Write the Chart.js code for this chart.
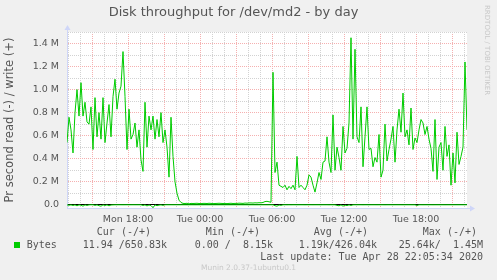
<!DOCTYPE html>
<html>
<head>
<meta charset="utf-8">
<script src="https://cdn.jsdelivr.net/npm/chart.js@4"></script>
<style>
  body { margin: 0; background: #f0f0f0; }
  #wrap { position: relative; width: 497px; height: 280px; overflow: hidden; background: #f0f0f0; }
  #diskChart { position: absolute; left: 0; top: 0; }
  .mono { position: absolute; font: 10px 'DejaVu Sans Mono', monospace; line-height: 12px; color: #555; white-space: pre; }
  .swatch { position: absolute; left: 14px; top: 242px; width: 6px; height: 6px; background: #00cc00; }
  .brand { position: absolute; left: 483px; top: 5px; font: 7px 'DejaVu Sans', sans-serif; color: #c8c8c8; writing-mode: vertical-rl; white-space: nowrap; }
  .version { position: absolute; left: 0; width: 497px; top: 263px; text-align: center; font: 7.5px 'DejaVu Sans', sans-serif; line-height: 10px; color: #c8c8c8; }
</style>
</head>
<body>
<div id="wrap">
  <canvas id="diskChart" width="497" height="280"></canvas>
  <div class="swatch"></div>
  <div class="mono" style="left:26.7px; top:238.5px">Bytes</div>
  <div class="mono" style="right:346px; top:226px">Cur (-/+)</div>
  <div class="mono" style="right:237px; top:226px">Min (-/+)</div>
  <div class="mono" style="right:129px; top:226px">Avg (-/+)</div>
  <div class="mono" style="right:20px; top:226px">Max (-/+)</div>
  <div class="mono" style="right:330px; top:238.5px">11.94 /650.83k</div>
  <div class="mono" style="right:224px; top:238.5px">0.00 /  8.15k</div>
  <div class="mono" style="right:120px; top:238.5px">1.19k/426.04k</div>
  <div class="mono" style="right:14px; top:238.5px">25.64k/  1.45M</div>
  <div class="mono" style="right:14px; top:251px">Last update: Tue Apr 28 22:05:34 2020</div>
  <div class="brand">RRDTOOL / TOBI OETIKER</div>
  <div class="version">Munin 2.0.37-1ubuntu0.1</div>
</div>
<script>
// one sample every 10 minutes, starting Mon 12:55
const startHour = 12 + 55 / 60;
const stepHours = 10 / 60;
const endHour = 46.25;

// write (+), MB per second
const writeMB = [
  0.54, 0.76, 0.65, 0.45, 0.80, 1.00, 0.77, 1.06, 0.77, 0.89, 0.72, 0.70, 0.85, 0.48, 0.93, 0.59, 0.80,
  0.57, 0.93, 0.54, 0.71, 0.87, 0.59, 0.94, 1.09, 0.83, 0.97, 1.03, 1.33, 0.94, 0.48, 0.83, 0.57,
  0.61, 0.71, 0.50, 0.65, 0.39, 0.29, 0.89, 0.50, 0.77, 0.65, 0.77, 0.57, 0.74, 0.59, 0.80, 0.54,
  0.65, 0.50, 0.24, 0.76, 0.42, 0.20, 0.10, 0.04, 0.02,
  0.012, 0.011, 0.013, 0.008, 0.012, 0.011, 0.012, 0.013, 0.011, 0.010, 0.012, 0.012, 0.011, 0.013,
  0.012, 0.010, 0.011, 0.012, 0.013, 0.012, 0.011, 0.012, 0.010, 0.012, 0.013, 0.011, 0.012, 0.012,
  0.014, 0.013, 0.012, 0.015, 0.014, 0.016,
  0.016, 0.015, 0.017, 0.016, 0.018, 0.017, 0.020, 0.028, 0.030, 0.026, 0.022,
  1.15,
  0.28, 0.37, 0.17, 0.16, 0.15, 0.17, 0.13, 0.16, 0.14, 0.17, 0.13, 0.42, 0.15, 0.17, 0.15, 0.13,
  0.17, 0.26, 0.24, 0.17, 0.11, 0.19, 0.28, 0.22, 0.37, 0.38, 0.59, 0.37, 0.28, 0.78,
  0.30, 0.50, 0.41, 0.30, 0.68,
  0.45, 0.49, 0.71, 1.45, 0.57, 1.35, 0.59, 0.54, 0.85, 0.33, 0.59, 0.85, 0.48, 0.49, 0.33, 0.41,
  0.37, 0.61, 0.24, 0.30, 0.70, 0.38, 0.48, 0.57, 0.68, 0.37, 0.65, 0.83, 0.63, 0.97, 0.59, 0.65,
  0.52, 0.84, 0.48, 0.58, 0.54, 0.65, 0.74, 0.71, 0.61, 0.68, 0.57, 0.49, 0.29, 0.74, 0.22, 0.50,
  0.54, 0.30, 0.68, 0.42, 0.52, 0.17, 0.45, 0.19, 0.63, 0.35, 0.42, 0.50, 1.24, 0.65
];

// read (-), kB per second
const readKB = [
  1, 4, 1,
  6, 1, 9, 1, 4, 12, 1, 6, 1,
  0.3, 0.2,
  5, 1, 8, 12, 1, 6, 1, 9, 2, 1,
  0.2, 0.3, 0.1, 0.2, 0.4, 0.2, 0.1, 0.3, 0.2, 0.1, 0.2, 0.3, 0.2, 0.1,
  6, 1, 10, 2, 7, 25.6, 1, 8, 3, 1, 5,
  0.2, 0.1, 0.3, 0.1, 0.2, 0.1, 0.1, 0.2, 0.1, 0.1, 0.1, 0.2, 0.1, 0.1, 0.1, 0.2, 0.1, 0.1,
  0.1, 0.2, 0.1, 0.1, 0.1, 0.1, 0.2, 0.1, 0.1, 0.1, 0.1, 0.2, 0.1, 0.1, 0.1, 0.2, 0.1, 0.1,
  0.1, 0.1, 0.1, 0.2, 0.1, 0.1, 0.2, 0.1, 0.1, 0.3, 0.2, 0.1, 0.2, 0.3, 0.2, 0.4, 0.3, 0.2,
  0.2,
  8, 12, 2, 5,
  0.4, 0.3, 0.6, 0.2, 0.5, 0.3, 0.2, 0.4, 0.3, 0.2, 0.3, 0.5, 0.2, 0.3, 0.2, 0.4, 0.3, 0.2,
  0.3, 0.5, 0.3, 0.4, 0.2, 0.6, 0.3, 0.4, 0.5,
  5, 9, 1, 12, 3, 7, 1, 6,
  0.5, 0.3, 0.4, 0.2, 0.3, 0.5, 0.2, 0.3, 0.4, 0.2, 0.3, 0.2, 0.4, 0.3, 0.2, 0.3, 0.5, 0.2,
  0.3, 0.2, 0.4, 0.3, 0.2, 0.3, 0.2, 0.4, 0.3, 0.2, 0.3, 0.2, 0.4, 0.3,
  6,
  0.3, 0.2, 0.4, 0.2, 0.3, 0.2, 0.3, 0.4, 0.2, 0.3, 0.2, 0.3, 0.2, 0.4, 0.2, 0.3, 0.2, 0.3,
  0.2, 0.3, 0.2, 0.1, 0.2, 0.1, 0.012
];

const xTickHours = [18, 24, 30, 36, 42];
const xTickLabels = ['Mon 18:00', 'Tue 00:00', 'Tue 06:00', 'Tue 12:00', 'Tue 18:00'];
const yTickValues = [0, 0.2, 0.4, 0.6, 0.8, 1.0, 1.2, 1.4];
const yTickLabels = ['0.0', '0.2 M', '0.4 M', '0.6 M', '0.8 M', '1.0 M', '1.2 M', '1.4 M'];

const GREEN = '#00cc00';
const AXIS = '#cfd6f8';
const MINOR = '#d2d2d2';
const MAJOR = '#f5b0b0';

Chart.defaults.font.family = "'DejaVu Sans', sans-serif";

const canvasBg = {
  id: 'canvasBg',
  beforeDraw(chart) {
    const { ctx, chartArea: a } = chart;
    ctx.save();
    ctx.fillStyle = '#ffffff';
    ctx.fillRect(a.left, a.top, a.right - a.left, a.bottom - a.top);
    ctx.restore();
  }
};

const axisArrows = {
  id: 'axisArrows',
  afterDraw(chart) {
    const { ctx, chartArea: a } = chart;
    const x = Math.round(a.left) + 0.5;
    const y = Math.round(a.bottom) + 0.5;
    ctx.save();
    ctx.strokeStyle = AXIS;
    ctx.fillStyle = AXIS;
    ctx.lineWidth = 1;
    ctx.beginPath();
    ctx.moveTo(x, a.top);
    ctx.lineTo(x, a.top - 3);
    ctx.moveTo(a.right, y);
    ctx.lineTo(a.right + 3, y);
    ctx.stroke();
    ctx.beginPath();
    ctx.moveTo(x, a.top - 7);
    ctx.lineTo(x - 3, a.top - 2);
    ctx.lineTo(x + 3, a.top - 2);
    ctx.fill();
    ctx.beginPath();
    ctx.moveTo(a.right + 8, y);
    ctx.lineTo(a.right + 3, y - 3);
    ctx.lineTo(a.right + 3, y + 3);
    ctx.fill();
    ctx.restore();
  }
};

const writePoints = writeMB.map((v, i) => ({ x: startHour + i * stepHours, y: v }));
const readPoints = readKB.map((v, i) => ({ x: startHour + i * stepHours, y: -v / 1000 }));

const ctx = document.getElementById('diskChart').getContext('2d');

const chart = new Chart(ctx, {
  type: 'line',
  data: {
    datasets: [
      {
        label: 'write',
        data: writePoints,
        borderColor: GREEN,
        borderWidth: 1,
        pointRadius: 0,
        tension: 0,
        fill: false,
      },
      {
        label: 'read',
        data: readPoints,
        borderColor: GREEN,
        borderWidth: 1,
        pointRadius: 0,
        tension: 0,
        fill: false,
      },
    ],
  },
  options: {
    responsive: false,
    animation: false,
    layout: { padding: { left: 0, right: 30, top: 0, bottom: 52 } },
    plugins: {
      legend: { display: false },
      tooltip: { enabled: false },
      title: {
        display: true,
        text: 'Disk throughput for /dev/md2 - by day',
        color: '#555',
        font: { size: 13, weight: 'normal' },
        padding: { top: 5, bottom: 11.4 },
      },
    },
    scales: {
      x: {
        type: 'linear',
        min: startHour,
        max: endHour,
        afterFit: (s) => { s.height = 20; },
        afterBuildTicks: (s) => {
          const t = [];
          for (let h = 13; h <= 46; h++) t.push({ value: h });
          s.ticks = t;
        },
        ticks: {
          autoSkip: false,
          maxRotation: 0,
          padding: 6,
          color: '#555',
          font: { size: 9.5 },
          callback: (v) => {
            const k = xTickHours.indexOf(v);
            return k >= 0 ? xTickLabels[k] : '';
          },
        },
        grid: {
          drawTicks: false,
          color: (c) => (c.tick && c.tick.value % 3 === 0 ? MAJOR : MINOR),
        },
        border: { color: AXIS, dash: [1, 1] },
      },
      y: {
        min: -0.028,
        max: 1.5,
        afterFit: (s) => { s.width = 67; },
        afterBuildTicks: (s) => {
          const t = [];
          for (let k = 0; k <= 15; k++) t.push({ value: k / 10 });
          s.ticks = t;
        },
        ticks: {
          autoSkip: false,
          padding: 8,
          color: '#555',
          font: { size: 9.5 },
          callback: (v) => {
            const k = yTickValues.findIndex((y) => Math.abs(y - v) < 1e-6);
            return k >= 0 ? yTickLabels[k] : '';
          },
        },
        grid: {
          drawTicks: false,
          color: (c) => {
            if (!c.tick) return MINOR;
            const k = Math.round(c.tick.value * 10);
            if (k === 0) return '#000000';
            return k % 2 === 0 ? MAJOR : MINOR;
          },
        },
        border: {
          color: AXIS,
          dash: (c) => (c.tick && Math.round(c.tick.value * 10) === 0 ? [] : [1, 1]),
        },
        title: {
          display: true,
          text: 'Pr second read (-) / write (+)',
          color: '#555',
          font: { size: 11.5 },
          padding: { top: 3.6, bottom: 0 },
        },
      },
    },
  },
  plugins: [canvasBg, axisArrows],
});
</script>
</body>
</html>
